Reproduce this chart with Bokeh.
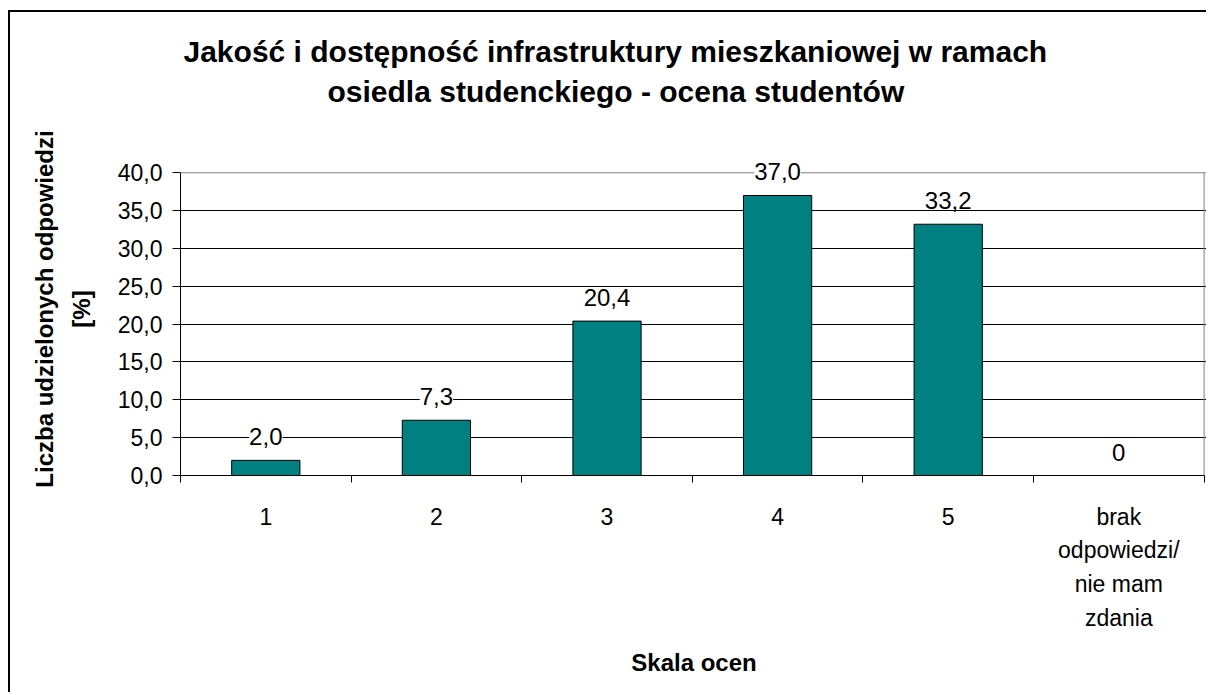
from bokeh.plotting import figure
from bokeh.models import Range1d, FixedTicker, ColumnDataSource, LabelSet, Span, Title
from bokeh.core.properties import value
from bokeh.embed import file_html
from bokeh.resources import INLINE

# ---- data ----
categories = ["1", "2", "3", "4", "5", "brak\nodpowiedzi/\nnie mam\nzdania"]
values = [2.0, 7.3, 20.4, 37.0, 33.2, 0.0]
value_labels = ["2,0", "7,3", "20,4", "37,0", "33,2", "0"]
y_ticks = [0, 5, 10, 15, 20, 25, 30, 35, 40]
y_tick_labels = ["0,0", "5,0", "10,0", "15,0", "20,0", "25,0", "30,0", "35,0", "40,0"]
title_lines = ["Jakość i dostępność infrastruktury mieszkaniowej w ramach",
               "osiedla studenckiego - ocena studentów"]
x_title = "Skala ocen"
y_title = "Liczba udzielonych odpowiedzi\n[%]"

FONT = "Liberation Sans"
n = len(categories)
y_max = y_ticks[-1]
x_centers = [i + 0.5 for i in range(n)]
x_bounds = list(range(n + 1))

p = figure(width=1198, height=682, output_backend="svg", toolbar_location=None,
           x_range=Range1d(0, n + 0.02), y_range=Range1d(0, y_max * 1.1),
           min_border_left=170, min_border_right=1, min_border_top=130, min_border_bottom=219)
p.styles = {"border-left": "2px solid black", "border-top": "2px solid black",
            "margin-top": "10px", "margin-left": "8px"}
p.background_fill_color = "white"
p.border_fill_color = "white"
p.outline_line_color = None

src = ColumnDataSource(dict(x=x_centers, top=values, lab=value_labels))
p.vbar(x="x", top="top", bottom=0, width=0.4, source=src,
       fill_color="#008080", line_color="black", line_width=1)

# plot-area border (top and right, grey)
p.add_layout(Span(location=y_max, dimension="width", line_color="#808080", line_width=1))
p.segment(x0=[n], y0=[0], x1=[n], y1=[y_max], line_color="#808080", line_width=1)

labels = LabelSet(x="x", y="top", text="lab", source=src, text_align="center",
                  text_baseline="alphabetic", y_offset=15, text_font=value(FONT),
                  text_font_size="24px", text_color="black",
                  background_fill_color="white")
p.add_layout(labels)

# grid
p.xgrid.visible = False
p.ygrid.ticker = FixedTicker(ticks=y_ticks[1:-1])
p.ygrid.grid_line_color = "black"
p.ygrid.grid_line_width = 1

# y axis
ya = p.yaxis[0]
ya.bounds = (0, y_max)
ya.ticker = FixedTicker(ticks=y_ticks)
ya.major_label_overrides = {t: l for t, l in zip(y_ticks, y_tick_labels)}
ya.major_tick_out = 8
ya.major_tick_in = 0
ya.minor_tick_line_color = None
ya.axis_line_color = "black"
ya.major_tick_line_color = "black"
ya.major_label_standoff = 10
ya.major_label_text_font = FONT
ya.major_label_text_font_size = "23px"
ya.major_label_text_color = "black"
ya.axis_label = y_title
ya.axis_label_text_font = FONT
ya.axis_label_text_font_style = "bold"
ya.axis_label_text_font_size = "24px"
ya.axis_label_text_color = "black"
ya.axis_label_text_line_height = 1.35
ya.axis_label_standoff = 20

# x axis
xa = p.xaxis[0]
xa.bounds = (0, n)
xa.ticker = FixedTicker(ticks=x_centers, minor_ticks=x_bounds)
xa.major_label_overrides = {t: c for t, c in zip(x_centers, categories)}
xa.major_tick_line_color = None
xa.major_tick_out = 0
xa.major_tick_in = 0
xa.minor_tick_out = 7
xa.minor_tick_in = 0
xa.minor_tick_line_color = "black"
xa.axis_line_color = "black"
xa.major_label_standoff = 21
xa.major_label_text_font = FONT
xa.major_label_text_font_size = "23px"
xa.major_label_text_color = "black"
xa.major_label_text_line_height = 1.3
xa.axis_label = x_title
xa.axis_label_text_font = FONT
xa.axis_label_text_font_style = "bold"
xa.axis_label_text_font_size = "24px"
xa.axis_label_text_color = "black"
xa.axis_label_standoff = 15

# title: two lines (second line added first -> closest to plot)
for txt, off, so in zip(reversed(title_lines), [147, 3], [69, -59]):
    p.add_layout(Title(text=txt, align="left", offset=off, text_font=FONT,
                       text_font_style="bold", text_font_size="30px",
                       text_color="black", standoff=so), "above")

open("out.html", "w").write(file_html(p, INLINE))
